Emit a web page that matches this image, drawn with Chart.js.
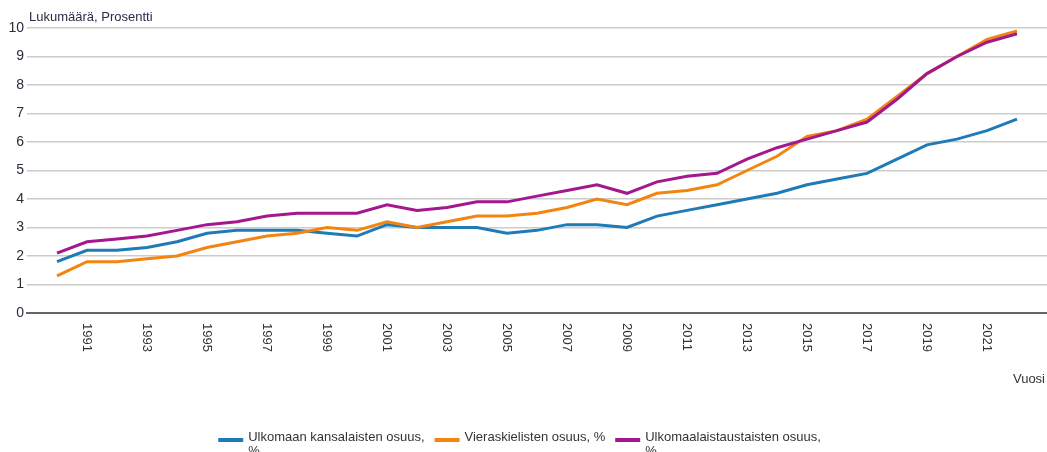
<!DOCTYPE html>
<html>
<head>
<meta charset="utf-8">
<script src="https://cdn.jsdelivr.net/npm/chart.js@4"></script>
<style>
  html, body { margin: 0; padding: 0; background: #fff; }
  #wrap { width: 1047px; height: 452px; position: relative; }
</style>
</head>
<body>
<div id="wrap"><canvas id="chart"></canvas></div>
<script>
const years = [1990, 1991, 1992, 1993, 1994, 1995, 1996, 1997, 1998, 1999,
  2000, 2001, 2002, 2003, 2004, 2005, 2006, 2007, 2008, 2009, 2010,
  2011, 2012, 2013, 2014, 2015, 2016, 2017, 2018, 2019, 2020, 2021, 2022];

const ulkomaanKansalaiset = [1.8, 2.2, 2.2, 2.3, 2.5, 2.8, 2.9, 2.9, 2.9, 2.8,
  2.7, 3.1, 3.0, 3.0, 3.0, 2.8, 2.9, 3.1, 3.1, 3.0, 3.4,
  3.6, 3.8, 4.0, 4.2, 4.5, 4.7, 4.9, 5.4, 5.9, 6.1, 6.4, 6.8];

const vieraskieliset = [1.3, 1.8, 1.8, 1.9, 2.0, 2.3, 2.5, 2.7, 2.8, 3.0,
  2.9, 3.2, 3.0, 3.2, 3.4, 3.4, 3.5, 3.7, 4.0, 3.8, 4.2,
  4.3, 4.5, 5.0, 5.5, 6.2, 6.4, 6.8, 7.6, 8.4, 9.0, 9.6, 9.9];

const ulkomaalaistaustaiset = [2.1, 2.5, 2.6, 2.7, 2.9, 3.1, 3.2, 3.4, 3.5, 3.5,
  3.5, 3.8, 3.6, 3.7, 3.9, 3.9, 4.1, 4.3, 4.5, 4.2, 4.6,
  4.8, 4.9, 5.4, 5.8, 6.1, 6.4, 6.7, 7.5, 8.4, 9.0, 9.5, 9.8];

const seriesNames = [
  ["Ulkomaan kansalaisten osuus,", "%"],
  ["Vieraskielisten osuus, %"],
  ["Ulkomaalaistaustaisten osuus,", "%"]
];
const seriesColors = ["#1f7bb6", "#f28512", "#a3178f"];

const yTicks = [0, 1, 2, 3, 4, 5, 6, 7, 8, 9, 10];
const xTickYears = [1991, 1993, 1995, 1997, 1999, 2001, 2003, 2005, 2007, 2009,
  2011, 2013, 2015, 2017, 2019, 2021];

const yTitle = "Lukumäärä, Prosentti";
const xTitle = "Vuosi";

const toPoints = (vals) => vals.map((v, i) => ({ x: years[i], y: v }));

// Kirjoitetaan vuodet pystyyn, akselin otsikot ja selite itse
const decorPlugin = {
  id: "decor",
  afterDraw(chart) {
    const ctx = chart.ctx;
    const xs = chart.scales.x;
    const area = chart.chartArea;
    ctx.save();
    ctx.fillStyle = "#333";
    ctx.font = "13px 'Liberation Sans', Arial, sans-serif";
    ctx.textAlign = "left";
    ctx.textBaseline = "middle";
    xTickYears.forEach((yr) => {
      const px = xs.getPixelForValue(yr);
      ctx.save();
      ctx.translate(px, area.bottom + 10);
      ctx.rotate(Math.PI / 2);
      ctx.fillText(String(yr), 0, 0);
      ctx.restore();
    });

    ctx.font = "13px 'Liberation Sans', Arial, sans-serif";
    ctx.fillStyle = "#2b2b4a";
    ctx.textBaseline = "alphabetic";
    ctx.fillText(yTitle, area.left + 2, 21);

    ctx.fillStyle = "#333";
    ctx.textAlign = "right";
    ctx.fillText(xTitle, chart.width - 2, 383);

    // selite
    ctx.font = "13px 'Liberation Sans Narrow', 'Liberation Sans', Arial, sans-serif";
    ctx.textAlign = "left";
    const items = seriesNames.map((lines, i) => {
      const w = Math.max(...lines.map((l) => ctx.measureText(l).width));
      return { lines, color: seriesColors[i], w: 25 + 5 + w };
    });
    const gap = 10;
    const total = items.reduce((s, it) => s + it.w, 0) + gap * (items.length - 1);
    let x = (chart.width - total) / 2 - 4;
    const y0 = 441;
    items.forEach((it) => {
      ctx.strokeStyle = it.color;
      ctx.lineWidth = 4;
      ctx.beginPath();
      ctx.moveTo(x, y0 - 1);
      ctx.lineTo(x + 25, y0 - 1);
      ctx.stroke();
      ctx.fillStyle = "#333";
      it.lines.forEach((l, k) => ctx.fillText(l, x + 30, y0 + k * 14));
      x += it.w + gap;
    });
    ctx.restore();
  }
};

new Chart(document.getElementById("chart"), {
  type: "line",
  data: {
    datasets: [
      { label: seriesNames[0].join(" "), data: toPoints(ulkomaanKansalaiset), borderColor: seriesColors[0], order: 3 },
      { label: seriesNames[1].join(" "), data: toPoints(vieraskieliset), borderColor: seriesColors[1], order: 2 },
      { label: seriesNames[2].join(" "), data: toPoints(ulkomaalaistaustaiset), borderColor: seriesColors[2], order: 1 }
    ].map((d) => Object.assign(d, { borderWidth: 3, pointRadius: 0, tension: 0, fill: false }))
  },
  options: {
    responsive: true,
    maintainAspectRatio: false,
    animation: false,
    layout: { padding: { top: 28, right: 0, left: 0, bottom: 0 } },
    plugins: {
      legend: { display: false },
      tooltip: { enabled: false }
    },
    scales: {
      x: {
        type: "linear",
        min: 1989,
        max: 2023,
        ticks: { display: false },
        grid: { display: false },
        border: { display: true, color: "#666", width: 2 },
        afterFit: (scale) => { scale.height = 139; }
      },
      y: {
        min: 0,
        max: 10,
        afterBuildTicks: (scale) => { scale.ticks = yTicks.map((v) => ({ value: v })); },
        ticks: {
          color: "#2b2b3a",
          padding: 3,
          font: { size: 14, family: "'Liberation Sans', Arial, sans-serif" }
        },
        grid: { color: "#cccccc", lineWidth: 1.5, drawTicks: false },
        border: { display: false },
        afterFit: (scale) => { scale.width = 27; }
      }
    }
  },
  plugins: [decorPlugin]
});
</script>
</body>
</html>
